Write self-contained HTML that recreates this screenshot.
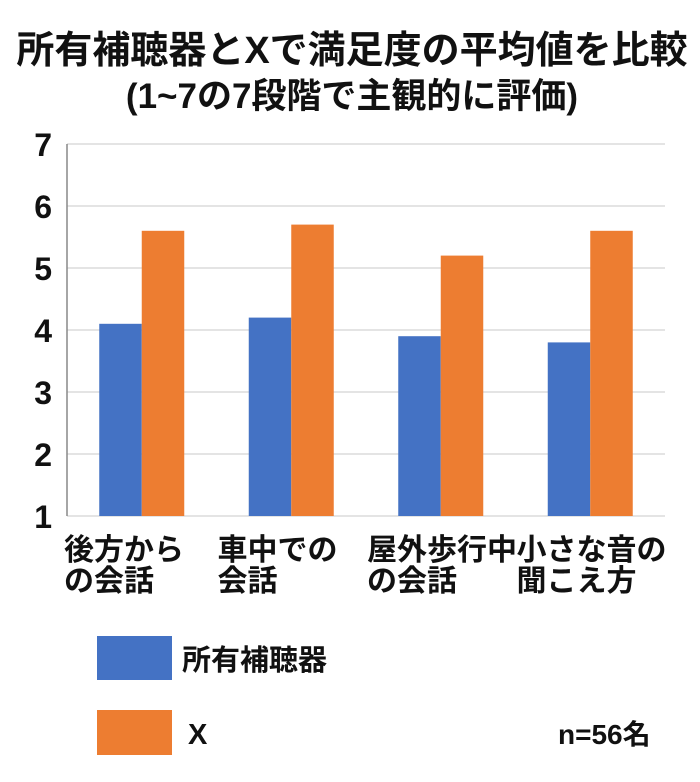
<!DOCTYPE html>
<html><head><meta charset="utf-8"><style>
body{margin:0;background:#fff;}
svg text{font-family:"Liberation Sans","Noto Sans CJK JP",sans-serif;font-weight:bold;fill:#111;}
</style></head><body>
<svg width="700" height="777" id="c">
<text x="352" y="63" font-size="38" text-anchor="middle">所有補聴器とXで満足度の平均値を比較</text>
<text x="352" y="108" font-size="35" text-anchor="middle">(1~7の7段階で主観的に評価)</text>
<g id="grid"></g><g id="bars"></g><g id="labels"></g>
<line x1="67" y1="144" x2="67" y2="516" stroke="#888" stroke-width="1.5"/>
<rect x="97" y="636" width="75" height="44" fill="#4472c4"/>
<text x="182" y="670" font-size="29">所有補聴器</text>
<rect x="97" y="710" width="75" height="45" fill="#ed7d31"/>
<text x="188" y="744" font-size="29">X</text>
<text x="558" y="744" font-size="28">n=56名</text>
</svg>
<script>
const categories=[["後方から","の会話"],["車中での","会話"],["屋外歩行中","の会話"],["小さな音の","聞こえ方"]];
const owned=[4.1,4.2,3.9,3.8];
const xVals=[5.6,5.7,5.2,5.6];
const ticks=[1,2,3,4,5,6,7];
const NS="http://www.w3.org/2000/svg";
const x0=67,x1=665,yTop=144,yBot=516,vMin=1,vMax=7;
const yS=v=>yBot-(v-vMin)/(vMax-vMin)*(yBot-yTop);
const band=(x1-x0)/categories.length;
const barW=42.5;
function mk(t,a,p){const e=document.createElementNS(NS,t);for(const k in a)e.setAttribute(k,a[k]);p.appendChild(e);return e;}
const g=document.getElementById('grid');
ticks.forEach(t=>{
 const l=mk('line',{x1:x0,x2:x1,y1:yS(t),y2:yS(t),stroke:'#dcdcdc','stroke-width':1.5},g);
 
 
 const tx=mk('text',{x:52,y:yS(t)+12,'font-size':32,'text-anchor':'end'},g);
 tx.textContent=t;
 
 
});
const b=document.getElementById('bars'),lb=document.getElementById('labels');
categories.forEach((c,i)=>{
 const cx=x0+band*(i+0.5);
 const r1=mk('rect',{x:cx-barW,y:yS(owned[i]),width:barW,height:yBot-yS(owned[i]),fill:'#4472c4'},b);
 
 
 const r2=mk('rect',{x:cx,y:yS(xVals[i]),width:barW,height:yBot-yS(xVals[i]),fill:'#ed7d31'},b);
 
 
 const lx=x0-3+band*i+(i>0?4:0);
 c.forEach((s,j)=>{
  const t=mk('text',{x:lx,y:560+j*31,'font-size':30},lb);
  t.textContent=s;
  
  
 });
});
</script>
</body></html>
